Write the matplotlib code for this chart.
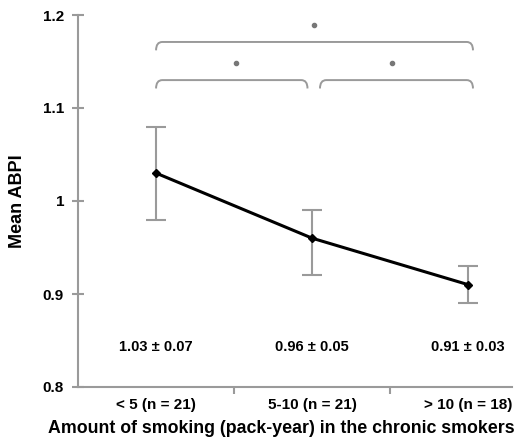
import numpy as np
import matplotlib.pyplot as plt
from matplotlib.path import Path
from matplotlib.patches import PathPatch

plt.rcParams['font.family'] = ['Liberation Sans', 'DejaVu Sans']

# data
categories = ["< 5 (n = 21)", "5-10 (n = 21)", "> 10 (n = 18)"]
means = [1.03, 0.96, 0.91]
upper = [1.08, 0.99, 0.93]
lower = [0.98, 0.92, 0.89]
summary = ["1.03 \u00b1 0.07", "0.96 \u00b1 0.05", "0.91 \u00b1 0.03"]
# significant pairs (first, second, level)
pairs = [(0, 1, 0), (1, 2, 0), (0, 2, 1)]

gray = "#9a9a9a"

fig = plt.figure(figsize=(5.15, 4.45), dpi=100)
ax = fig.add_axes([78 / 515, 58 / 445, 434 / 515, 372 / 445])

x = np.arange(len(means))
yerr = [np.array(means) - np.array(lower), np.array(upper) - np.array(means)]
ax.errorbar(x, means, yerr=yerr, fmt="none", ecolor=gray, elinewidth=1.5,
            capsize=7, capthick=1.5, zorder=2)
ax.plot(x, means, color="black", lw=2.2, marker="D", ms=4.5, zorder=3)

# mean +/- sd text under each group
for i, s in enumerate(summary):
    ax.text(i, 0.843, s, ha="center", va="center", fontsize=10.5, fontweight="bold")

# brackets with significance dots
def bracket(x0, x1, y, drop=0.009, r=0.04):
    verts = [(x0, y - drop), (x0, y), (x0 + r, y), (x1 - r, y), (x1, y), (x1, y - drop)]
    codes = [Path.MOVETO, Path.CURVE3, Path.CURVE3, Path.LINETO, Path.CURVE3, Path.CURVE3]
    ax.add_patch(PathPatch(Path(verts, codes), fill=False, edgecolor=gray, lw=1.4,
                           clip_on=False))

for a, b, lvl in pairs:
    x0 = a + (0.0 if a == 0 else 0.05)
    x1 = b - (0.03 if lvl == 0 and b == 1 else -0.03)
    y = 1.130 + lvl * 0.041
    bracket(x0, x1, y)
    ax.plot((a + b) / 2 + 0.01, y + 0.018, "o", color="#777777", ms=3, clip_on=False)

ax.set_xlim(-0.5, 2.28)
ax.set_ylim(0.8, 1.2)
ax.set_yticks([0.8, 0.9, 1.0, 1.1, 1.2])
ax.set_yticklabels(["0.8", "0.9", "1", "1.1", "1.2"], fontsize=11, fontweight="bold")
ax.set_xticks(x)
ax.set_xticklabels(categories, fontsize=11, fontweight="bold")
ax.set_xticks([0.5, 1.5], minor=True)

ax.tick_params(axis="x", which="major", length=0, pad=8)
ax.tick_params(axis="x", which="minor", length=5, width=1.5, color=gray, direction="out")
ax.tick_params(axis="y", length=8, width=1.5, color=gray, direction="inout", pad=6)

for side in ["top", "right"]:
    ax.spines[side].set_visible(False)
for side in ["left", "bottom"]:
    ax.spines[side].set_color(gray)
    ax.spines[side].set_linewidth(1.5)

ax.set_ylabel("Mean ABPI", fontsize=13, fontweight="bold", labelpad=12)
ax.set_xlabel("Amount of smoking (pack-year) in the chronic smokers",
              fontsize=12.8, fontweight="bold", labelpad=6, x=0.468)

plt.savefig("out.png", dpi=100)
